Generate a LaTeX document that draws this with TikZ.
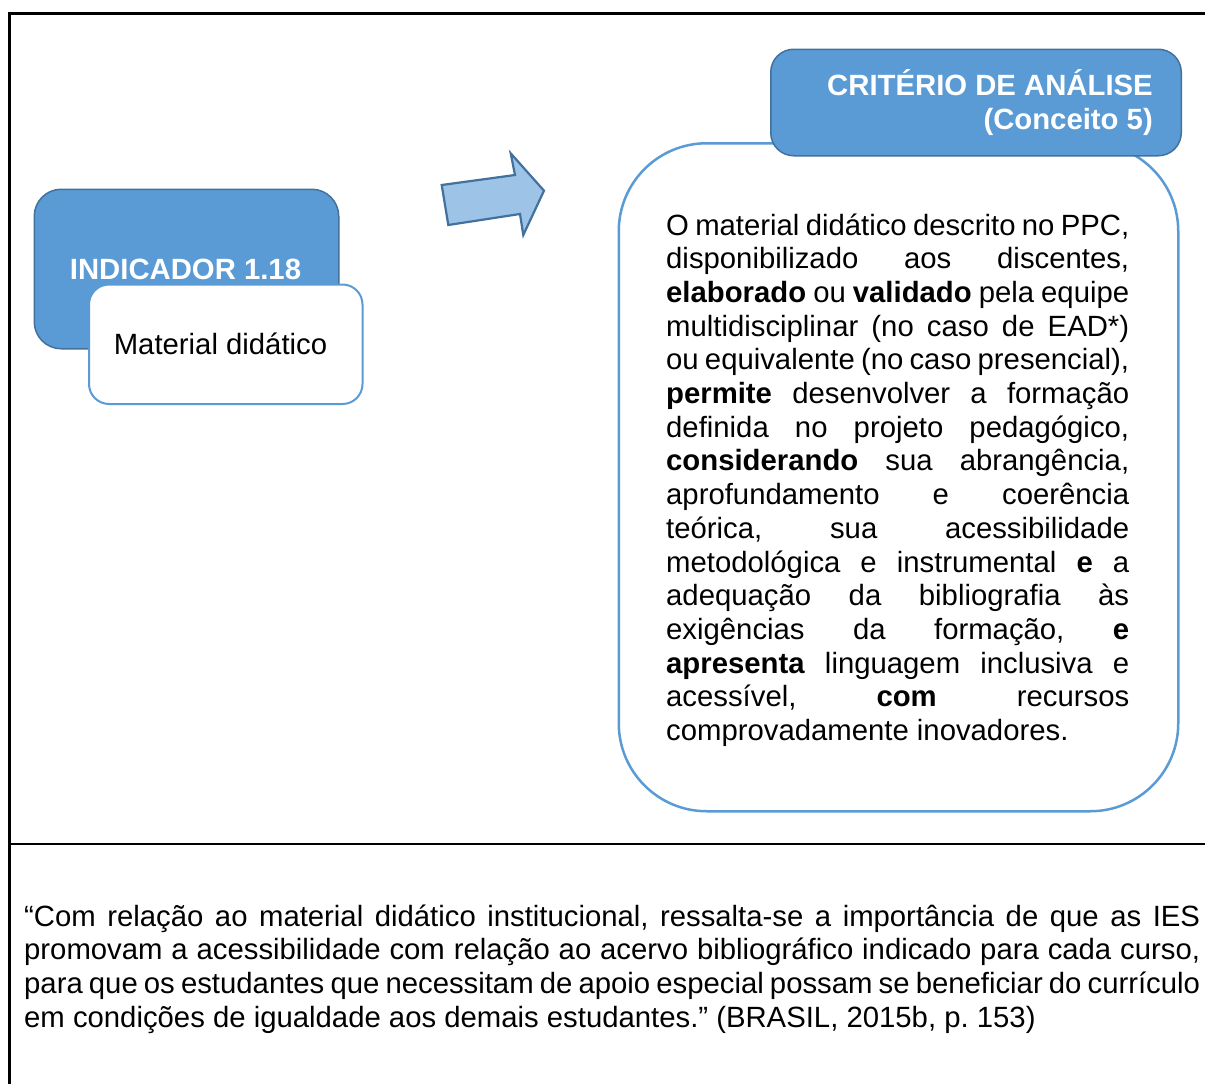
\documentclass[tikz,border=0pt]{standalone}
\usepackage{fontspec}
\setmainfont{Liberation Sans}
\definecolor{boxblue}{HTML}{5B9BD5}
\definecolor{boxedge}{HTML}{41719C}
\definecolor{arrowfill}{HTML}{9DC3E6}
% one fully justified line of a text block
\newcommand\JustLine[1]{\hbox to\hsize{#1}}
\newcommand\BodyFont{\fontsize{29.3pt}{33.7pt}\selectfont}
\frenchspacing

\begin{document}
\begin{tikzpicture}[x=1pt,y=-1pt,
  frameline/.style={line width=2.7pt, draw=black},
  titlebox/.style={draw=boxedge, fill=boxblue, line width=1.5pt, inner sep=0pt, anchor=north west},
  whitebox/.style={draw=boxblue, fill=white, inner sep=0pt, anchor=north west},
  plaintext/.style={inner sep=0pt, font=\BodyFont},
  titletext/.style={inner sep=0pt, font=\BodyFont\bfseries, text=white},
  blockarrow/.style={draw=boxedge, fill=arrowfill, line width=2.2pt, line join=miter}]
\useasboundingbox (0,0) rectangle (1205,1084);

% outer table rules
\draw[frameline] (9.5,1084) -- (9.5,13.5) -- (1205,13.5);
\draw[frameline] (9.5,844) -- (1205,844);

% indicator block
\node[titlebox, rounded corners=27pt, minimum width=304.5pt, minimum height=159.5pt] (indbox) at (33.5,188.5) {};
\node[titletext, anchor=base] (indtext) at (185.5,279) {INDICADOR 1.18};
\node[whitebox, line width=2pt, rounded corners=20pt, minimum width=273.5pt, minimum height=119.5pt] (matbox) at (88,283.5) {};
\node[plaintext, anchor=base] (mattext) at (220.5,354) {Material didático};

% block arrow between the two blocks
\draw[blockarrow] (441.7,185) -- (515,175) -- (510.7,153.3) -- (544,190.7)
  -- (523.3,235) -- (520,214) -- (448.3,225) -- cycle;

% criterion block
\node[whitebox, line width=2.5pt, rounded corners=88pt, minimum width=559.5pt, minimum height=668pt] (critbox) at (617.5,142) {};
\node[titlebox, rounded corners=23pt, minimum width=410.5pt, minimum height=106.5pt] (headbox) at (770,48.5) {};
\node[titletext, anchor=base east] (headone) at (1153,95) {CRITÉRIO DE ANÁLISE};
\node[titletext, anchor=base east] (headtwo) at (1153,129) {(Conceito 5)};

\node[plaintext, anchor=base west] (crittext) at (666,235) {\vtop{\hsize=463pt
  \JustLine{O material didático descrito no PPC,}
  \JustLine{disponibilizado aos discentes,}
  \JustLine{\textbf{elaborado} ou \textbf{validado} pela equipe}
  \JustLine{multidisciplinar (no caso de EAD*)}
  \JustLine{ou equivalente (no caso presencial),}
  \JustLine{\textbf{permite} desenvolver a formação}
  \JustLine{definida no projeto pedagógico,}
  \JustLine{\textbf{considerando} sua abrangência,}
  \JustLine{aprofundamento e coerência}
  \JustLine{teórica, sua acessibilidade}
  \JustLine{metodológica e instrumental \textbf{e} a}
  \JustLine{adequação da bibliografia às}
  \JustLine{exigências da formação, \textbf{e}}
  \JustLine{\textbf{apresenta} linguagem inclusiva e}
  \JustLine{acessível, \textbf{com} recursos}
  \hbox{comprovadamente inovadores.}}};

% quotation in the lower cell
\node[plaintext, anchor=base west] (quote) at (24,926) {\vtop{\hsize=1176pt
  \JustLine{“Com relação ao material didático institucional, ressalta-se a importância de que as IES}
  \JustLine{promovam a acessibilidade com relação ao acervo bibliográfico indicado para cada curso,}
  \JustLine{para que os estudantes que necessitam de apoio especial possam se beneficiar do currículo}
  \hbox{em condições de igualdade aos demais estudantes.” (BRASIL, 2015b, p. 153)}}};
\end{tikzpicture}
\end{document}
